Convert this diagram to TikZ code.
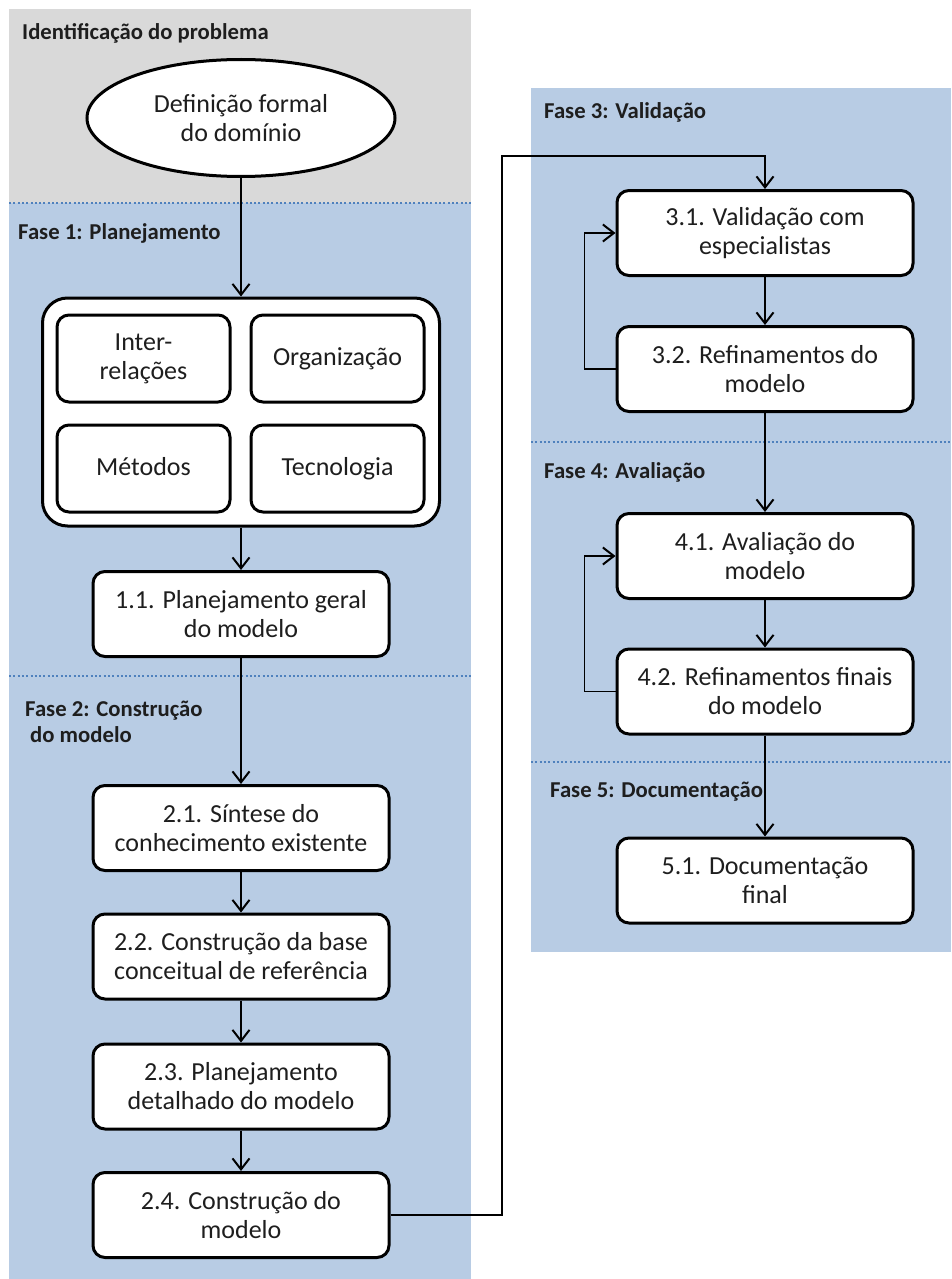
\documentclass[tikz,border=0pt]{standalone}
\usepackage{fontspec}
\setmainfont{Carlito}
\usetikzlibrary{arrows.meta,shapes.geometric}
\definecolor{phasegray}{HTML}{D9D9D9}
\definecolor{phaseblue}{HTML}{B8CCE4}
\definecolor{sepblue}{HTML}{4F81BD}
\definecolor{ink}{HTML}{1E1E1E}

\begin{document}
\begin{tikzpicture}[x=1pt,y=-1pt,
  every node/.style={inner sep=0pt, text=ink},
  proc/.style={draw, line width=3pt, fill=white, rounded corners=12pt,
    minimum width=296pt, minimum height=85pt, align=center,
    font=\fontsize{26}{29}\selectfont},
  inbox/.style={proc, minimum width=173pt, minimum height=87pt},
  phase/.style={anchor=base west, font=\bfseries\fontsize{22.7}{27}\selectfont},
  sep/.style={sepblue, line width=2pt, dash pattern=on 2pt off 2.3pt},
  flow/.style={line width=1.4pt, -{Straight Barb[length=11pt,width=17pt,line width=2pt]}},
]
\useasboundingbox (0,0) rectangle (951,1279);

% phase backgrounds
\fill[phasegray] (9,9) rectangle (471,203);
\fill[phaseblue] (9,203) rectangle (471,1279);
\fill[phaseblue] (531,88) rectangle (951,952);

% phase separators
\draw[sep] (9,203) -- (471,203);
\draw[sep] (9,676) -- (471,676);
\draw[sep] (531,442) -- (951,442);
\draw[sep] (531,762) -- (951,762);

% phase titles
\node[phase] (lid) at (22,40) {Identificação do problema};
\node[phase] (lf1) at (18,239) {Fase 1: Planejamento};
\node[phase] (lf2) at (25,716) {Fase 2: Construção};
\node[phase] (lf2b) at (30,742) {do modelo};
\node[phase] (lf3) at (544,119) {Fase 3: Validação};
\node[phase] (lf4) at (544,478) {Fase 4: Avaliação};
\node[phase] (lf5) at (550,797) {Fase 5: Documentação};

% problem definition
\node[ellipse, draw, line width=3pt, fill=white, minimum width=308pt,
  minimum height=117pt, align=center, font=\fontsize{26}{29}\selectfont]
  (ell) at (241,118) {Definição formal\\do domínio};

% planning aspects
\node[draw, line width=3pt, fill=white, rounded corners=25pt,
  minimum width=397pt, minimum height=228pt] (grp) at (241,412) {};
\node[inbox] (inter) at (143.5,358.5) {Inter-\\relações};
\node[inbox] (org) at (337.5,358.5) {Organização\vphantom{Mg}};
\node[inbox] (met) at (143.5,468.5) {Métodos\vphantom{Mg}};
\node[inbox] (tec) at (337.5,468.5) {Tecnologia\vphantom{Mg}};

% left column steps
\node[proc] (n11) at (241,614) {1.1. Planejamento geral\\do modelo};
\node[proc] (n21) at (241,828) {2.1. Síntese do\\conhecimento existente};
\node[proc] (n22) at (241,956.5) {2.2. Construção da base\\conceitual de referência};
\node[proc] (n23) at (241,1086.5) {2.3. Planejamento\\detalhado do modelo};
\node[proc] (n24) at (241,1215) {2.4. Construção do\\modelo};

% right column steps
\node[proc] (n31) at (765,233) {3.1. Validação com\\especialistas};
\node[proc] (n32) at (765,369) {3.2. Refinamentos do\\modelo};
\node[proc] (n41) at (765,556) {4.1. Avaliação do\\modelo};
\node[proc] (n42) at (765,691.5) {4.2. Refinamentos finais\\do modelo};
\node[proc] (n51) at (765,880.5) {5.1. Documentação\\final};

% flow
\draw[flow] (ell.south) -- (grp.north);
\draw[flow] (grp.south) -- (n11.north);
\draw[flow] (n11.south) -- (n21.north);
\draw[flow] (n21.south) -- (n22.north);
\draw[flow] (n22.south) -- (n23.north);
\draw[flow] (n23.south) -- (n24.north);
\coordinate (jog) at (502,156);
\draw[flow] (n24.east) -| (jog) -| (n31.north);
\draw[flow] (n31.south) -- (n32.north);
\draw[flow] (n32.west) -- ++(-31,0) |- (n31.west);
\draw[flow] (n32.south) -- (n41.north);
\draw[flow] (n41.south) -- (n42.north);
\draw[flow] (n42.west) -- ++(-31,0) |- (n41.west);
\draw[flow] (n42.south) -- (n51.north);
\end{tikzpicture}
\end{document}
